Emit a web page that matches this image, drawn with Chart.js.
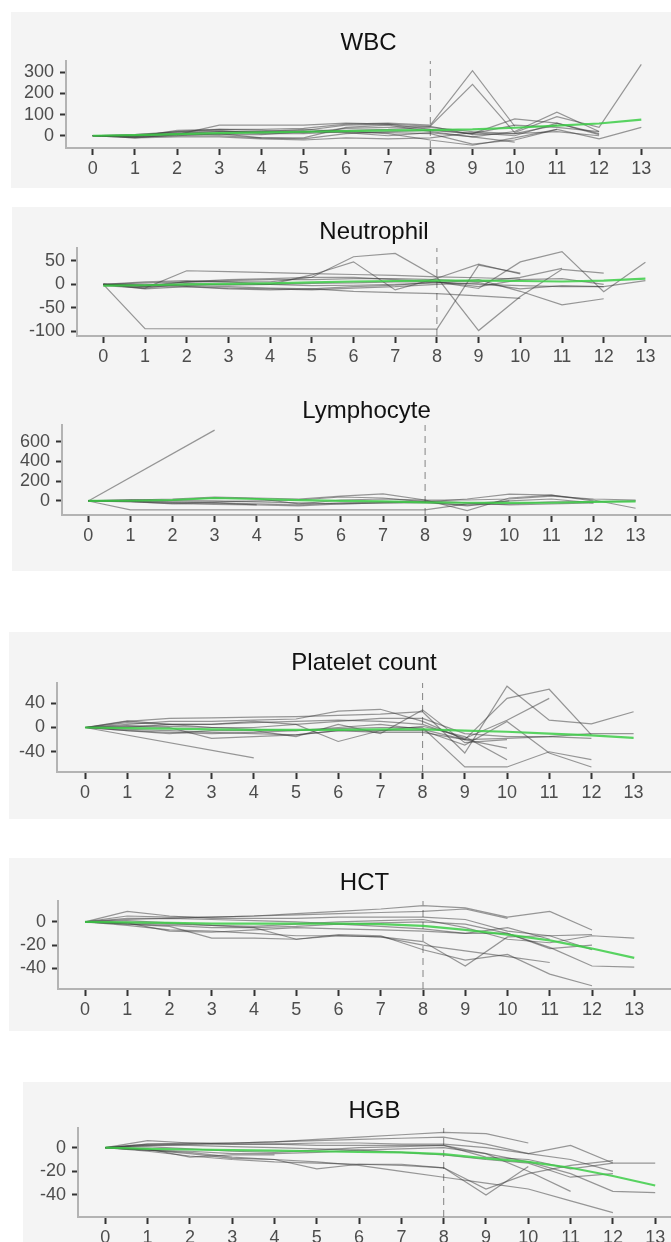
<!DOCTYPE html>
<html lang="en">
<head>
<meta charset="UTF-8">
<title>Blood counts over time</title>
<script src="https://cdn.jsdelivr.net/npm/chart.js"></script>
<style>
  body { margin: 0; background: #fff; width: 671px; height: 1242px; position: relative; overflow: hidden; }
  .box { position: absolute; background: #f4f4f4; }
  canvas { position: absolute; }
</style>
</head>
<body>
<div class="box" style="left:11px;top:12px;width:660px;height:176px"></div>
<div class="box" style="left:12px;top:207px;width:659px;height:364px"></div>
<div class="box" style="left:9px;top:632px;width:662px;height:187px"></div>
<div class="box" style="left:9px;top:858px;width:662px;height:173px"></div>
<div class="box" style="left:23px;top:1082px;width:648px;height:160px"></div>

<canvas id="wbc"></canvas>
<canvas id="neut"></canvas>
<canvas id="lymph"></canvas>
<canvas id="plt"></canvas>
<canvas id="hct"></canvas>
<canvas id="hgb"></canvas>

<script>
// x axis (days) and the dashed reference day
var days = [0,1,2,3,4,5,6,7,8,9,10,11,12,13];
var dashDay = 8;

// WBC
var wbcTicks = [0,100,200,300];
var wbcMean = [0,3,8,12,16,19,22,25,27,30,38,48,58,76];
var wbcLines = [
  [0,-5,25,30,30,35,55,60,50,308,45],
  [0,0,10,20,20,25,50,55,45,243,15,90,40,338],
  [0,-10,5,50,50,50,60,55,30,10,80,60,10],
  [0,5,20,25,10,10,20,15,10,-40,-20,30,-15,40],
  [0,-5,0,10,-10,-10,40,50,20,-5,20,112,20],
  [0,0,10,5,5,20,15,0,15,-5,-30],
  [0,5,15,20,20,30,20,10,-20,-45,-10,30],
  [0,0,5,10,15,20,25,30,40,20,10,20,0],
  [0,-5,0,0,-10,-15,10,20,25,10,50,40,20],
  [0,0,20,30,25,15,35,40,45,5,10,50],
  [0,-10,-5,-5,-15,-20,-10,-15,-10,15,0,60,5]
];

// Neutrophil
var neutTicks = [-100,-50,0,50];
var neutMean = [-3,-2,0,1,2,4,6,7,8,8,7,6,8,12];
var neutLines = [
  [0,-95,null,null,null,null,null,null,-96,41,24],
  [0,-5,5,5,5,15,59,66,15,-99,-26,32,24],
  [-3,-8,2,-2,0,20,48,-12,13,43,22],
  [0,-8,29,27,25,23,21,19,16,14,11],
  [0,-5,-5,-10,-12,-10,-15,-18,-20,-25,-30],
  [0,0,-3,-5,-8,-10,-5,-2,5,-9,48,70,-16,47],
  [0,5,8,5,0,-3,-2,0,3,10,-15,-44,-31],
  [0,3,5,8,10,10,12,12,10,5,15,34],
  [0,-3,-2,0,0,2,3,5,5,0,-3,-5,-5,8],
  [0,-2,5,10,12,15,15,10,5,-5,10,12,0],
  [0,-10,-5,-8,-10,-12,-8,-5,0,3,-10,-3,-5]
];

// Lymphocyte
var lymphTicks = [0,200,400,600];
var lymphMean = [0,2,10,30,20,8,0,-5,-15,-18,-20,-18,-10,-5];
var lymphLines = [
  [0,null,null,717],
  [0,-91,null,null,null,null,null,null,-91,-30,0],
  [0,10,20,40,30,20,50,71,10,-98,30,60,0],
  [0,-5,-30,-20,-40,-50,-30,-20,-10,20,70,60,10,-74],
  [0,0,-10,-20,-30,-40,-20,-10,0,-20,-40,-30,-20],
  [0,-10,-25,-35,-40],
  [0,5,10,30,25,-30,10,20,10,10,20,50,20,10],
  [0,15,5,0,-10,-20,-30,-20,-20,-40,-30,-10,-10,0],
  [0,-5,-15,-10,0,10,40,30,-10,-50,0,20,-20]
];

// Platelet count
var pltTicks = [-40,0,40];
var pltMean = [0,-1,-2,-3,-4,-4,-4,-3,-3,-5,-7,-10,-13,-17];
var pltLines = [
  [0,10,15,16,17,18,20,22,26,-42,68,12,6,26],
  [0,5,10,10,12,14,27,30,10,-20,48,63,-12],
  [0,0,5,5,8,10,12,10,5,-18,12,48],
  [0,-5,-8,-10,-8,-5,-2,0,0,-65,-65,-40,-53],
  [0,2,0,-18,-15,-12,-5,-5,-5,-29,10,-42,-65],
  [0,8,5,5,10,5,-23,-5,2,-15,-53],
  [0,-3,-5,-8,-10,-12,-5,-8,-8,-20,-34],
  [0,null,null,null,-50],
  [0,3,2,0,-3,-5,0,5,-3,-20,-18,-15,-10,-10],
  [0,11,5,0,0,5,10,15,15,-10,-15,-15,-18],
  [0,-5,-10,-5,-5,-15,5,-10,29,-25,-20]
];

// HCT
var hctTicks = [-40,-20,0];
var hctMean = [0,-0.5,-1,-1.5,-1.5,-1.5,-1.5,-2,-3.5,-7,-11,-16,-23,-31];
var hctLines = [
  [0,5,4,4,5,7,9,11,14,12,4,9,-7],
  [0,3,3,4,5,6,7,8,9,11,3],
  [0,9,5,3,3,3,4,4,4,2,-8,-12,-24],
  [0,-2,-3,-5,-5,-4,-2,-1,0,-2,-10,-22,-38,-39],
  [0,1,-1,-3,-4,-2,0,1,2,-5,-15,-18,-12,-14],
  [0,-3,-7,-8,-10,-12,-12,-13,-17,-38,-13,-12,-11],
  [0,-2,-4,-14,-14,-15,-11,-12,-24,-33,-28,-45,-55],
  [0,-1,-2,-3,-5,-15,-12,-13,-20,-25,-30,-35],
  [0,2,3,2,1,0,-2,-4,-6,-10,-10,-23,-20],
  [0,-1,-8,-9,-7,-5,-6,-7,-8,-10,-5,-15]
];

// HGB
var hgbTicks = [-40,-20,0];
var hgbMean = [0,-1,-1.5,-2,-2.5,-3,-3.5,-4,-5.5,-9,-12,-17,-24,-32];
var hgbLines = [
  [0,6,4,4,5,7,9,11,13,12,4],
  [0,3,3,4,5,6,7,8,9,3,-5,2,-13],
  [0,2,3,3,3,4,4,3,3,0,-5,-10,-20],
  [0,-2,-3,-5,-5,-4,-2,-1,0,-5,-12,-22,-37,-38],
  [0,1,-1,-3,-4,-2,0,1,2,-8,-10,-18,-13,-13],
  [0,-3,-7,-10,-12,-13,-14,-14,-17,-40,-16],
  [0,-2,-5,-9,-10,-18,-14,-15,-17,-35,-22,-15,-11],
  [0,-2,-4,-8,-10,-12,-15,-20,-25,-30,-35,-45,-55],
  [0,-1,-8,-6,-6],
  [0,2,2,1,0,-1,-2,-4,-6,-10,-13,-25,-22],
  [0,3,4,3,3,2,2,2,2,-5,-20,-37]
];

// panel placement on the page (canvas box, axis lines, title line, tick spacing)
var FONT = '"Liberation Sans", Arial, Helvetica, sans-serif';

function makePanel(id, title, lines, mean, yTicks, g) {
  var cv = document.getElementById(id);
  var w = 671 - g.left, h = g.bottom - g.top;
  cv.width = w; cv.height = h;
  cv.style.left = g.left + 'px';
  cv.style.top = g.top + 'px';

  var pts = function (arr) { return arr.map(function (v, i) { return {x: days[i], y: v}; }); };
  var ds = [{ data: pts(mean), borderColor: 'rgba(60,205,70,0.85)', borderWidth: 2.2, spanGaps: true }];
  lines.forEach(function (l) {
    ds.push({ data: pts(l), borderColor: 'rgba(55,55,55,0.5)', borderWidth: 1.2, spanGaps: true });
  });
  ds.push({ data: [{x: dashDay, y: g.yMin}, {x: dashDay, y: g.yMax}],
            borderColor: 'rgba(110,110,110,0.85)', borderWidth: 1, borderDash: [7, 5] });

  var tickFont = { family: FONT, size: 18 };
  new Chart(cv, {
    type: 'line',
    data: { datasets: ds },
    options: {
      responsive: false,
      animation: false,
      devicePixelRatio: 1,
      elements: { point: { radius: 0 }, line: { tension: 0 } },
      layout: { padding: 0 },
      plugins: {
        legend: { display: false },
        tooltip: { enabled: false },
        title: {
          display: true, text: title, fullSize: false, color: '#111',
          font: { family: FONT, size: 24, weight: 'normal', lineHeight: 1 },
          padding: { top: g.titleY - 12 - g.top, bottom: g.yTop - g.titleY - 12 }
        }
      },
      scales: {
        x: {
          type: 'linear',
          min: (g.yAxisX - g.x0) / g.dx,
          max: (671 - g.x0) / g.dx,
          afterFit: function (s) { s.height = g.bottom - g.xAxisY; },
          afterBuildTicks: function (s) { s.ticks = days.map(function (v) { return {value: v}; }); },
          grid: { drawOnChartArea: false, drawTicks: true, tickLength: 7, tickWidth: 2, tickColor: '#333' },
          border: { color: '#b3b3b3', width: 2 },
          ticks: { color: '#4d4d4d', font: tickFont, padding: 3, maxRotation: 0, autoSkip: false }
        },
        y: {
          min: g.yMin, max: g.yMax,
          afterFit: function (s) { s.width = g.yAxisX - g.left; },
          afterBuildTicks: function (s) { s.ticks = yTicks.map(function (v) { return {value: v}; }); },
          grid: { drawOnChartArea: false, drawTicks: true, tickLength: 6, tickWidth: 2, tickColor: '#333' },
          border: { color: '#b3b3b3', width: 2 },
          ticks: { color: '#4d4d4d', font: tickFont, padding: 6, autoSkip: false }
        }
      }
    }
  });
}

makePanel('wbc', 'WBC', wbcLines, wbcMean, wbcTicks,
  {left: 11, top: 12, bottom: 188, yAxisX: 66, yTop: 61, xAxisY: 148, titleY: 43, x0: 92.7, dx: 42.2, yMin: -58, yMax: 354});
makePanel('neut', 'Neutrophil', neutLines, neutMean, neutTicks,
  {left: 12, top: 207, bottom: 375, yAxisX: 77, yTop: 248, xAxisY: 336, titleY: 232, x0: 103.3, dx: 41.7, yMin: -110.7, yMax: 77.7});
makePanel('lymph', 'Lymphocyte', lymphLines, lymphMean, lymphTicks,
  {left: 12, top: 380, bottom: 560, yAxisX: 62, yTop: 425, xAxisY: 515, titleY: 411, x0: 88.3, dx: 42.1, yMin: -142, yMax: 769});
makePanel('plt', 'Platelet count', pltLines, pltMean, pltTicks,
  {left: 9, top: 632, bottom: 819, yAxisX: 57, yTop: 683, xAxisY: 772, titleY: 663, x0: 85, dx: 42.2, yMin: -73.3, yMax: 73.3});
makePanel('hct', 'HCT', hctLines, hctMean, hctTicks,
  {left: 9, top: 858, bottom: 1031, yAxisX: 58, yTop: 901, xAxisY: 989, titleY: 883, x0: 85, dx: 42.25, yMin: -57.8, yMax: 17.9});
makePanel('hgb', 'HGB', hgbLines, hgbMean, hgbTicks,
  {left: 23, top: 1082, bottom: 1242, yAxisX: 78, yTop: 1128, xAxisY: 1217, titleY: 1111, x0: 105.3, dx: 42.3, yMin: -58.7, yMax: 16.7});
</script>
</body>
</html>
